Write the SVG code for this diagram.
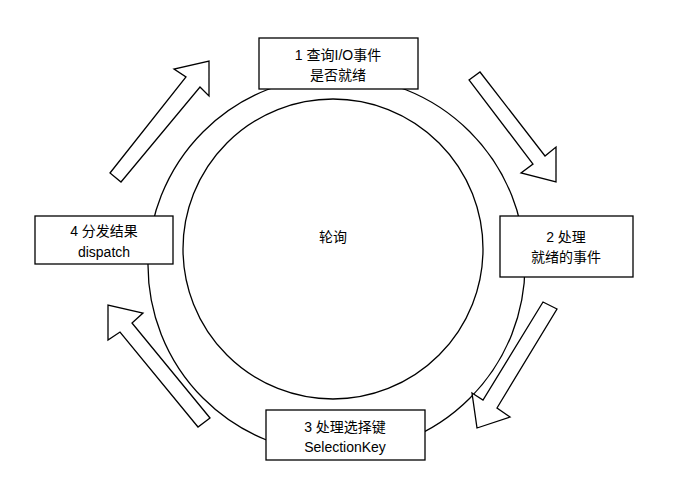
<svg xmlns="http://www.w3.org/2000/svg" width="696" height="502" viewBox="0 0 696 502">
<style>
.s{fill:#fff;stroke:#000;stroke-width:1.3}
.t{font-family:"Liberation Sans","Noto Sans CJK SC",sans-serif;font-size:14px;text-anchor:middle;fill:#000}
</style>
<rect width="696" height="502" fill="#fff"/>
<g id="ring"><circle class="s" cx="336.5" cy="265" r="188.5"/></g>
<g id="center"><circle class="s" cx="333" cy="249" r="150"/><text class="t" x="333" y="242">轮询</text></g>
<g id="connectors">
<polygon class="s" points="110,173 186,77 174,69 209,61 209,96 200,87 121,182"/>
<polygon class="s" points="469,80 480,72 545,156 556,147 556,182 521,173 533,164"/>
<polygon class="s" points="557,309 543,302 483,400 472,393 477,428 510,417 497,408"/>
<polygon class="s" points="210,418 198,427 120,332 108,340 108,305 143,313 132,323"/>
</g>
<g id="n1"><rect class="s" x="259" y="38" width="159" height="51"/><text class="t" x="338" y="60">1 查询I/O事件</text><text class="t" x="338" y="80">是否就绪</text></g>
<g id="n2"><rect class="s" x="500" y="216" width="133" height="61"/><text class="t" x="566" y="242">2 处理</text><text class="t" x="566" y="262">就绪的事件</text></g>
<g id="n3"><rect class="s" x="266" y="410" width="159" height="50"/><text class="t" x="345" y="432">3 处理选择键</text><text class="t" x="345" y="452">SelectionKey</text></g>
<g id="n4"><rect class="s" x="35" y="216" width="138" height="48"/><text class="t" x="104" y="236">4 分发结果</text><text class="t" x="104" y="257">dispatch</text></g>
</svg>
